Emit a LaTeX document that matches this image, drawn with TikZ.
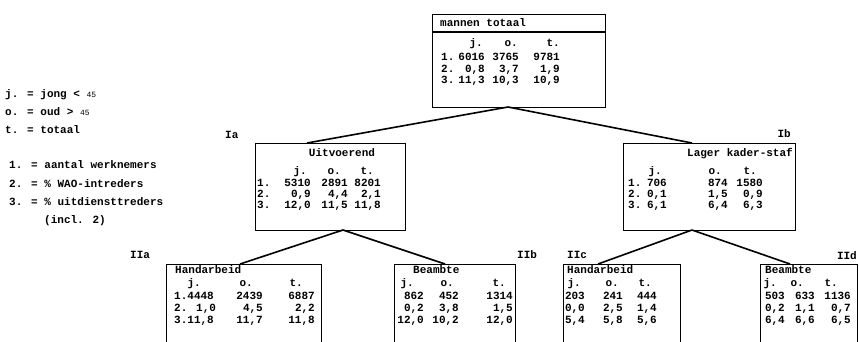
\documentclass[tikz,border=0pt]{standalone}
\usepackage{fontspec}
\setmainfont{Liberation Mono}
\newcommand\mytable[6]{%
  \foreach \yy/\ll/\aa/\bb/\cc [count=\i] in {#6} {%
    \node[txt,anchor=mid west] (#1-l\i) at (#2,\yy) {\ll};
    \node[txt,anchor=mid east] (#1-a\i) at (#3,\yy) {\aa};
    \node[txt,anchor=mid east] (#1-b\i) at (#4,\yy) {\bb};
    \node[txt,anchor=mid east] (#1-c\i) at (#5,\yy) {\cc};
  }}
\newcommand\myhead[5]{%
  \node[txt,anchor=mid east] (#1-hj) at (#3,#2) {j.};
  \node[txt,anchor=mid east] (#1-ho) at (#4,#2) {o.};
  \node[txt,anchor=mid east] (#1-ht) at (#5,#2) {t.};}
\begin{document}
\begin{tikzpicture}[x=1pt,y=-1pt,
  font=\fontsize{11}{12}\selectfont\bfseries,
  txt/.style={inner sep=0pt},
  box/.style={draw,line width=1.3pt,inner sep=0pt,anchor=north west},
  conn/.style={line width=1.6pt}]
\useasboundingbox (0,0) rectangle (859,341);
\clip (0,0) rectangle (859,341);
% legend
\node[txt,anchor=mid west] (lg1) at (5,95) {j. = jong < {\fontsize{8}{8}\selectfont\mdseries 45}};
\node[txt,anchor=mid west] (lg2) at (5,113) {o. = oud > {\fontsize{8}{8}\selectfont\mdseries 45}};
\node[txt,anchor=mid west] (lg3) at (5,131) {t. = totaal};
\node[txt,anchor=mid west] (lg4) at (9,166) {1. = aantal werknemers};
\node[txt,anchor=mid west] (lg5) at (9,185) {2. = \% WAO-intreders};
\node[txt,anchor=mid west] (lg6) at (9,203) {3. = \% uitdiensttreders};
\node[txt,anchor=mid west] (lg7) at (44,221) {(incl. 2)};
% boxes
\node[box,minimum width=173pt,minimum height=93pt] (T) at (432,14) {};
\draw[line width=1.3pt] (432,32) -- (605,32);
\node[box,minimum width=150pt,minimum height=87pt] (Ia) at (255,143) {};
\node[box,minimum width=172pt,minimum height=87pt] (Ib) at (623,143) {};
\node[box,minimum width=155pt,minimum height=100pt] (IIa) at (166,264) {};
\node[box,minimum width=121pt,minimum height=100pt] (IIb) at (394,264) {};
\node[box,minimum width=117pt,minimum height=100pt] (IIc) at (563,264) {};
\node[box,minimum width=97pt,minimum height=100pt] (IId) at (760,264) {};
% connection points
\coordinate (T-o) at (508,107);
\coordinate (Ia-i) at (307,143);
\coordinate (Ib-i) at (692,143);
\coordinate (Ia-o) at (343,230);
\coordinate (Ib-o) at (692,230);
\coordinate (IIa-i) at (240,264);
\coordinate (IIb-i) at (445,264);
\coordinate (IIc-i) at (598,264);
\coordinate (IId-i) at (790,264);
\draw[conn] (T-o) -- (Ia-i);
\draw[conn] (T-o) -- (Ib-i);
\draw[conn] (Ia-o) -- (IIa-i);
\draw[conn] (Ia-o) -- (IIb-i);
\draw[conn] (Ib-o) -- (IIc-i);
\draw[conn] (Ib-o) -- (IId-i);
% labels
\node[txt,anchor=mid west] (LIa) at (225,136) {Ia};
\node[txt,anchor=mid east] (LIb) at (791,135) {Ib};
\node[txt,anchor=mid west] (LIIa) at (130,256) {IIa};
\node[txt,anchor=mid west] (LIIb) at (517,256) {IIb};
\node[txt,anchor=mid west] (LIIc) at (567,256) {IIc};
\node[txt,anchor=mid east] (LIId) at (857,257) {IId};
% top box
\node[txt,anchor=mid west] (T-t) at (440,24) {mannen totaal};
\myhead{T}{44}{483}{518}{560}
\mytable{T}{441}{485}{519}{560}{58/1./6016/3765/9781, 70/2./{0,8}/{3,7}/{1,9}, 81/3./{11,3}/{10,3}/{10,9}}
% Ia
\node[txt,anchor=mid] (Ia-t) at (342,154) {Uitvoerend};
\myhead{Ia}{172}{307}{341}{374}
\mytable{Ia}{257}{311}{348}{381}{184/1./5310/2891/8201, 195/2./{0,9}/{4,4}/{2,1}, 206/3./{12,0}/{11,5}/{11,8}}
% Ib
\node[txt,anchor=mid east] (Ib-t) at (793,154) {Lager kader-staf};
\myhead{Ib}{172}{662}{722}{757}
\mytable{Ib}{628}{667}{728}{763}{184/1./706/874/1580, 195/2./{0,1}/{1,5}/{0,9}, 206/3./{6,1}/{6,4}/{6,3}}
% IIa
\node[txt,anchor=mid west] (IIa-t) at (175,271) {Handarbeid};
\myhead{IIa}{284}{201}{253}{303}
\mytable{IIa}{174}{210}{263}{315}{297/1.4448//2439/6887, 309/{2. 1,0}//{4,5}/{2,2}, 321/{3.11,8}//{11,7}/{11,8}}
% IIb
\node[txt,anchor=mid west] (IIb-t) at (413,271) {Beambte};
\myhead{IIb}{284}{414}{454}{506}
\mytable{IIb}{400}{424}{459}{513}{297//862/452/1314, 309//{0,2}/{3,8}/{1,5}, 321//{12,0}/{10,2}/{12,0}}
% IIc
\node[txt,anchor=mid west] (IIc-t) at (567,271) {Handarbeid};
\myhead{IIc}{284}{581}{619}{652}
\mytable{IIc}{567}{585}{623}{657}{297//203/241/444, 309//{0,0}/{2,5}/{1,4}, 321//{5,4}/{5,8}/{5,6}}
% IId
\node[txt,anchor=mid west] (IId-t) at (765,271) {Beambte};
\myhead{IId}{284}{777}{804}{838}
\mytable{IId}{765}{785}{815}{851}{297//503/633/1136, 309//{0,2}/{1,1}/{0,7}, 321//{6,4}/{6,6}/{6,5}}
\end{tikzpicture}
\end{document}
